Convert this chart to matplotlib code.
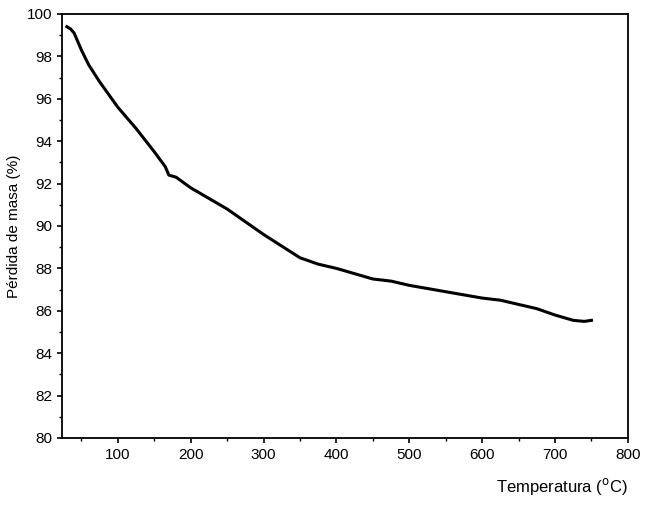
import matplotlib
matplotlib.use("Agg")
import matplotlib.pyplot as plt
from matplotlib.ticker import MultipleLocator

temp = [30, 35, 40, 50, 60, 75, 100, 125, 150, 165, 170, 180, 200, 250, 300, 350, 375, 400, 450, 475, 500, 550, 600, 625, 650, 675, 700, 725, 740, 750]
mass = [99.4, 99.3, 99.1, 98.3, 97.6, 96.8, 95.6, 94.6, 93.5, 92.8, 92.4, 92.3, 91.8, 90.8, 89.6, 88.5, 88.2, 88.0, 87.5, 87.4, 87.2, 86.9, 86.6, 86.5, 86.3, 86.1, 85.8, 85.55, 85.5, 85.55]

plt.rcParams['font.family'] = ['Liberation Sans', 'DejaVu Sans']
fig = plt.figure(figsize=(6.5, 5.09), dpi=100)
ax = fig.add_axes([0.095, 0.1395, 0.871, 0.833])
ax.plot(temp, mass, color='black', lw=2.2)
ax.set_xlim(23, 800)
ax.set_ylim(80, 100)
ax.xaxis.set_major_locator(MultipleLocator(100))
ax.xaxis.set_minor_locator(MultipleLocator(50))
ax.yaxis.set_major_locator(MultipleLocator(2))
ax.yaxis.set_minor_locator(MultipleLocator(1))
for s in ax.spines.values():
    s.set_linewidth(1.3)
ax.tick_params(labelsize=11, width=1.2)
ax.tick_params(which='minor', width=1.0)
ax.set_xlabel('Temperatura ($^\\mathrm{o}$C)', fontsize=12, loc='right', labelpad=10)
ax.set_ylabel('Pérdida de masa (%)', fontsize=11)
fig.savefig('out.png')
